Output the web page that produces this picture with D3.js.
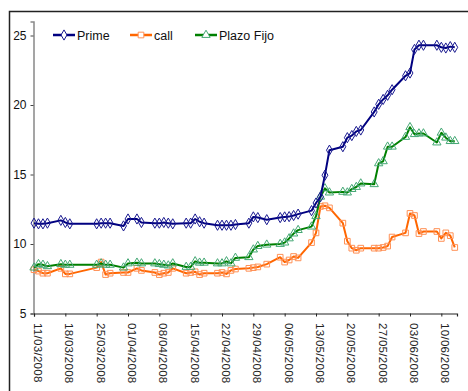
<!DOCTYPE html>
<html><head><meta charset="utf-8">
<script src="https://cdn.jsdelivr.net/npm/d3@7"></script>
<style>
html,body{margin:0;padding:0;background:#fff;}
svg{display:block;font-family:"Liberation Sans",Arial,sans-serif;}
</style></head>
<body>
<svg id="c" width="468" height="391"></svg>
<script>
const dates = ["2008-03-11","2008-03-12","2008-03-13","2008-03-14","2008-03-17","2008-03-18","2008-03-19","2008-03-25","2008-03-26","2008-03-27","2008-03-28","2008-03-31","2008-04-01","2008-04-03","2008-04-04","2008-04-07","2008-04-08","2008-04-09","2008-04-10","2008-04-11","2008-04-14","2008-04-15","2008-04-16","2008-04-17","2008-04-18","2008-04-21","2008-04-22","2008-04-23","2008-04-24","2008-04-25","2008-04-28","2008-04-29","2008-04-30","2008-05-02","2008-05-05","2008-05-06","2008-05-07","2008-05-08","2008-05-09","2008-05-12","2008-05-13","2008-05-14","2008-05-15","2008-05-16","2008-05-19","2008-05-20","2008-05-21","2008-05-22","2008-05-23","2008-05-26","2008-05-27","2008-05-28","2008-05-29","2008-05-30","2008-06-02","2008-06-03","2008-06-04","2008-06-05","2008-06-06","2008-06-09","2008-06-10","2008-06-11","2008-06-12","2008-06-13"];

const prime = [11.5,11.45,11.45,11.5, 11.7,11.55,11.45, 11.45,11.5,11.5,11.5, 11.3,11.8,11.8,11.55, 11.5,11.5,11.55,11.5,11.45, 11.5,11.5,11.8,11.6,11.5, 11.35,11.35,11.35,11.35,11.4, 11.5,11.95,11.9,11.75, 11.9,11.95,11.97,12.05,12.15, 12.4,12.95,13.4,14.95,16.75, 17.0,17.65,17.8,18.1,18.2, 19.5,20.05,20.4,20.7,21.1, 22.1,22.3,24.0,24.3,24.3, 24.3,24.15,24.1,24.2,24.15];

const call = [8.15,8.05,7.9,7.9, 8.25,7.85,7.85, 8.3,8.7,7.8,7.9, 7.95,7.95,8.25,8.1, 7.95,7.8,7.9,7.95,8.25, 7.9,7.95,8.0,7.8,7.9, 7.9,7.95,7.85,8.1,8.2, 8.25,8.3,8.35,8.55, 9.05,8.7,8.85,9.1,9.0, 10.1,10.8,12.7,12.75,12.6, 11.5,10.2,9.7,9.55,9.7, 9.7,9.7,9.75,9.85,10.5, 10.8,12.2,12.05,10.75,10.9, 10.9,10.4,10.8,10.6,9.75];

const plazoFijo = [8.3,8.55,8.5,8.4, 8.55,8.5,8.5, 8.5,8.6,8.5,8.5, 8.3,8.6,8.65,8.6, 8.6,8.55,8.5,8.45,8.6, 8.35,8.35,8.75,8.65,8.65, 8.6,8.6,8.75,8.6,9.0, 9.05,9.6,9.85,9.95, 10.0,10.1,10.4,10.75,11.0, 11.25,12.0,13.4,14.0,13.7, 13.75,13.7,13.95,14.1,14.35, 14.3,15.8,15.95,17.0,17.0, 17.7,18.4,17.9,17.95,17.95, 17.3,18.0,17.65,17.4,17.4];

const seriesNames = ["Prime","call","Plazo Fijo"];
const yTicks = [5,10,15,20,25];
const xStart = "2008-03-11", xEnd = "2008-06-13T12:00";

const parse = d3.isoParse;
const fmt = d3.timeFormat("%d/%m/%Y");

const svg = d3.select("#c");
// outer frame
svg.append("rect").attr("x",9.5).attr("y",11.5).attr("width",480).attr("height",420)
  .attr("fill","none").attr("stroke","#222").attr("stroke-width",1.5);

const x = d3.scaleTime().domain([parse(xStart), parse(xEnd)]).range([34, 457]);
const y = d3.scaleLinear().domain([5, 26]).range([313.5, 21.6]);

// Y axis
const yAxis = svg.append("g").attr("transform","translate(33.5,0)")
  .call(d3.axisLeft(y).tickValues(yTicks).tickSize(3).tickPadding(4));
yAxis.select(".domain").attr("stroke","#888").attr("stroke-width",1.5);
yAxis.selectAll(".tick line").attr("stroke","#444");
yAxis.selectAll("text").attr("font-size","12px").attr("fill","#111")
  .attr("font-family","'Liberation Sans',Arial,sans-serif");

// X axis
const xt = d3.range(0, 14).map(i => d3.timeDay.offset(parse(xStart), i*7));
const xAxis = svg.append("g").attr("transform","translate(0,313.5)")
  .call(d3.axisBottom(x).tickValues(xt).tickSize(3).tickFormat(""));
xAxis.select(".domain").attr("stroke","#222").attr("stroke-width",1.2);
xAxis.selectAll(".tick line").attr("stroke","#222");
svg.append("g").selectAll("text").data(xt).join("text")
  .attr("transform", d => `translate(${x(d)},323) rotate(90)`)
  .attr("font-size","11.5px").attr("fill","#222")
  .attr("font-family","'Liberation Sans',Arial,sans-serif")
  .attr("letter-spacing","0.3px")
  .text(d => fmt(d));

const pts = arr => arr.map((v,i) => ({d: parse(dates[i]), v}));
const line = d3.line().x(p => x(p.d)).y(p => y(p.v));

const series = [
  {name:"Prime", data:pts(prime), color:"#000080", mcolor:"#1a1a90", shape:d3.symbolDiamond, size:30},
  {name:"call", data:pts(call), color:"#FF6600", mcolor:"#FF9055", shape:d3.symbolSquare, size:32},
  {name:"Plazo Fijo", data:pts(plazoFijo), color:"#008000", mcolor:"#45A875", shape:d3.symbolTriangle, size:30}
];

const drawOrder = [series[1], series[2], series[0]];
drawOrder.forEach(s => {
  svg.append("path").datum(s.data).attr("d", line)
    .attr("fill","none").attr("stroke", s.color).attr("stroke-width",2).attr("stroke-linejoin","round");
  svg.append("g").selectAll("path").data(s.data).join("path")
    .attr("transform", p => `translate(${x(p.d)},${y(p.v)})`)
    .attr("d", d3.symbol().type(s.shape).size(s.size))
    .attr("fill","none").attr("stroke", s.mcolor).attr("stroke-width",1);
});

// legend
const lg = [{s:series[0], x:53}, {s:series[1], x:130}, {s:series[2], x:195}];
lg.forEach(o => {
  const g = svg.append("g").attr("transform",`translate(${o.x},35)`);
  g.append("line").attr("x1",0).attr("x2",22).attr("stroke",o.s.color).attr("stroke-width",2.5);
  g.append("path").attr("transform","translate(11,0)").attr("d", d3.symbol().type(o.s.shape).size(o.s.size))
    .attr("fill","#fff").attr("stroke",o.s.mcolor).attr("stroke-width",1);
  g.append("text").attr("x",24).attr("y",4.5).attr("font-size","12.5px").attr("fill","#111")
    .text(o.s.name);
});
</script>
</body></html>
